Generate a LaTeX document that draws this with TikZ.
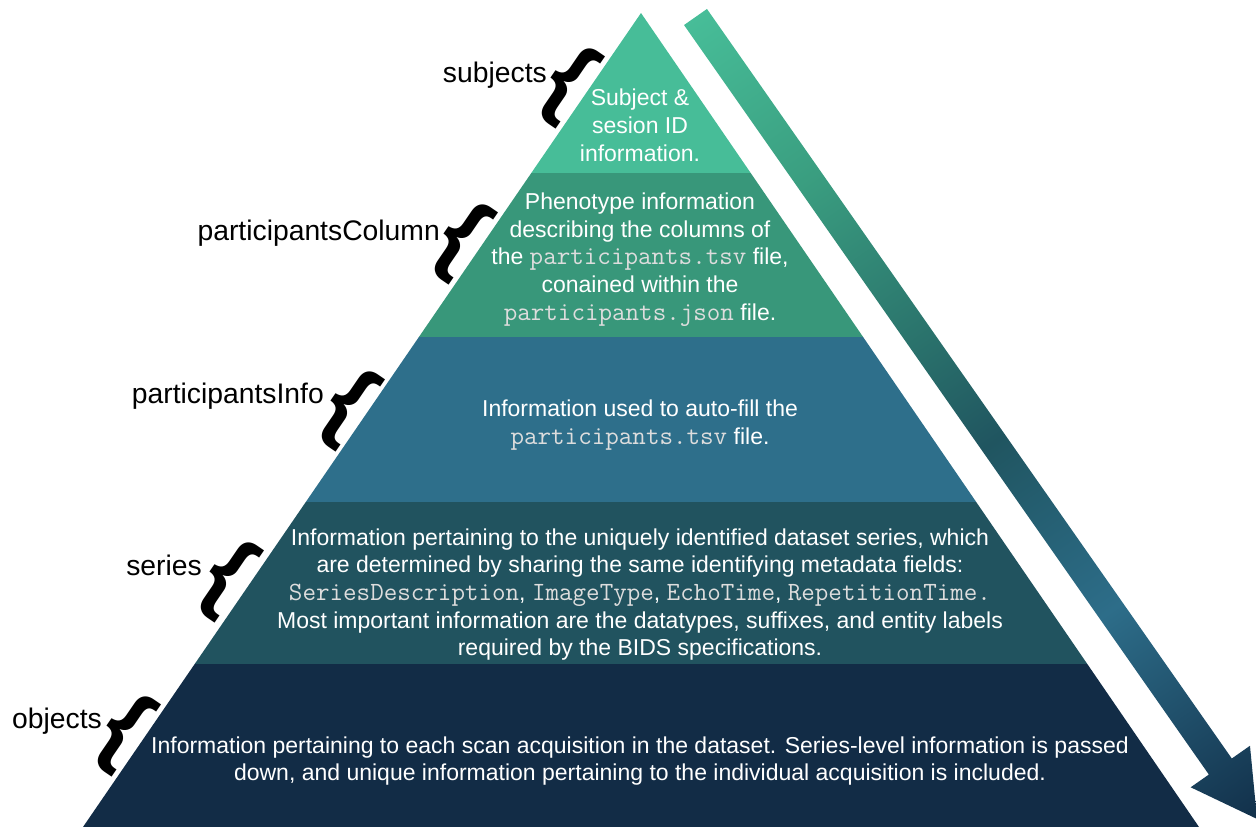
\documentclass[tikz,border=0pt]{standalone}
\usepackage{fontspec}
\setmainfont{Liberation Sans}
\definecolor{bandA}{HTML}{47BD98}
\definecolor{bandB}{HTML}{38977A}
\definecolor{bandC}{HTML}{2E6F8B}
\definecolor{bandD}{HTML}{21535F}
\definecolor{bandE}{HTML}{122C46}
\definecolor{monogrey}{HTML}{DDDDDD}
\definecolor{arA}{HTML}{47BD98}
\definecolor{arB}{HTML}{3A9E80}
\definecolor{arC}{HTML}{2B756D}
\definecolor{arD}{HTML}{205560}
\definecolor{arE}{HTML}{255F72}
\definecolor{arF}{HTML}{2D6D89}
\definecolor{arG}{HTML}{12304A}
\pgfdeclarehorizontalshading{arrowshade}{100bp}{color(0bp)=(arA); color(25bp)=(arA); color(35bp)=(arB); color(44.5bp)=(arC); color(51.5bp)=(arD); color(56bp)=(arE); color(62bp)=(arF); color(75bp)=(arG); color(100bp)=(arG)}
\newcommand{\mtxt}[1]{{\color{monogrey}\fontsize{26.3}{27.7}\selectfont\ttfamily #1}}
\tikzset{
  bandtext/.style={text=white, align=center, font=\fontsize{23}{27.7}\selectfont, inner sep=0pt},
  lvl/.style={font=\fontsize{28.3}{34}\selectfont, anchor=base east, inner sep=0pt, text=black},
  brc/.style={font=\fontsize{94}{94}\selectfont\bfseries, rotate=-34.4, inner sep=0pt, text=black},
}
\begin{document}
\begin{tikzpicture}[x=1pt,y=-1pt]
\useasboundingbox (0,0) rectangle (1256,827);
\begin{scope}
\clip (0,0) rectangle (1256,827);
% pyramid bands
\fill[bandA] (641,13) -- (750.7,173) -- (531.3,173) -- cycle;
\fill[bandB] (531.3,173) -- (750.7,173) -- (863.1,337) -- (418.9,337) -- cycle;
\fill[bandC] (418.9,337) -- (863.1,337) -- (976.2,502) -- (305.8,502) -- cycle;
\fill[bandD] (305.8,502) -- (976.2,502) -- (1087.3,664) -- (194.7,664) -- cycle;
\fill[bandE] (194.7,664) -- (1087.3,664) -- (1199,827) -- (83,827) -- cycle;
% arrow
\begin{scope}[transform canvas={shift={(695.5,17)},rotate=-55}]
\shade[shading=arrowshade] (0,-14) -- (915,-14) -- (915,-36.2) -- (979,0) -- (915,36.2) -- (915,14) -- (0,14) -- cycle;
\end{scope}
\end{scope}
% band texts
\node[bandtext] (t1) at (640,125.2) {Subject \&\\sesion ID\\information.};
\node[bandtext] (t2) at (640,259.4) {Phenotype information\\describing the columns of\\the \mtxt{participants.tsv} file,\\conained within the\\\mtxt{participants.json} file.};
\node[bandtext] (t3) at (640,425.3) {Information used to auto-fill the\\\mtxt{participants.tsv} file.};
\node[bandtext] (t4) at (640,594.6) {Information pertaining to the uniquely identified dataset series, which\\are determined by sharing the same identifying metadata fields:\\\mtxt{SeriesDescription}, \mtxt{ImageType}, \mtxt{EchoTime}, \mtxt{RepetitionTime.}\\Most important information are the datatypes, suffixes, and entity labels\\required by the BIDS specifications.};
\node[bandtext] (t5) at (640,761.1) {Information pertaining to each scan acquisition in the dataset. Series-level information is passed\\down, and unique information pertaining to the individual acquisition is included.};
% level labels
\node[lvl] (l1) at (547,82) {subjects};
\node[lvl] (l2) at (440,240) {participantsColumn};
\node[lvl] (l3) at (324,403) {participantsInfo};
\node[lvl] (l4) at (202,575) {series};
\node[lvl] (l5) at (102,728) {objects};
% braces
\node[brc] (b1) at (567.7,83.4) {\{};
\node[brc] (b2) at (460.7,239.4) {\{};
\node[brc] (b3) at (347.2,406.4) {\{};
\node[brc] (b4) at (226.2,577.4) {\{};
\node[brc] (b5) at (123.2,731.4) {\{};
\end{tikzpicture}
\end{document}
